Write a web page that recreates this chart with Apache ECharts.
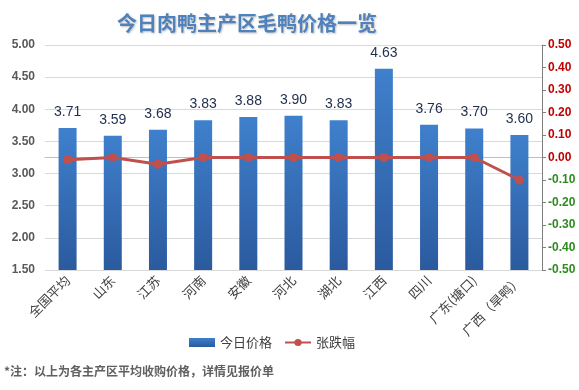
<!DOCTYPE html>
<html><head><meta charset="utf-8">
<script src="https://cdn.jsdelivr.net/npm/echarts@6/dist/echarts.min.js"></script>
<style>html,body{margin:0;padding:0;background:#fff}#c{width:579px;height:390px}</style>
</head><body><div id="c"></div>
<script>
var categories = ['全国平均','山东','江苏','河南','安徽','河北','湖北','江西','四川','广东(塘口)','广西（旱鸭）'];
var prices = [3.71,3.59,3.68,3.83,3.88,3.90,3.83,4.63,3.76,3.70,3.60];
var changes = [-0.01,0.00,-0.03,0.00,0.00,0.00,0.00,0.00,0.00,0.00,-0.10];
var leftTicks = [1.5,5.0,0.5];
var rightTicks = [-0.5,0.5,0.1];

var chart = echarts.init(document.getElementById('c'));
chart.setOption({
  animation:false,
  title:{text:'今日肉鸭主产区毛鸭价格一览',left:242,top:8,textAlign:'center',
    textStyle:{fontFamily:'Noto Sans CJK SC',fontSize:20,fontWeight:'bold',color:'#4f81bd',
      textShadowColor:'rgba(0,0,0,0.25)',textShadowBlur:2,textShadowOffsetX:1,textShadowOffsetY:1}},
  graphic:[{type:'text',left:4,top:365,style:{text:'*注：以上为各主产区平均收购价格，详情见报价单',
    font:'bold 12px "Noto Sans CJK SC"',fill:'#606060'}}],
  legend:{bottom:36,left:184,itemGap:12,itemWidth:26,itemHeight:9,
    textStyle:{fontFamily:'Noto Sans CJK SC',fontSize:13,color:'#404040'},
    data:[{name:'今日价格',icon:'rect'},{name:'张跌幅'}]},
  grid:{left:45,right:37,top:45,bottom:120},
  xAxis:{type:'category',data:categories,
    axisLine:{lineStyle:{color:'#bfbfbf'}},axisTick:{show:false},
    axisLabel:{rotate:45,interval:0,fontFamily:'Noto Sans CJK SC',fontSize:13,color:'#404040',margin:8}},
  yAxis:[{type:'value',min:leftTicks[0],max:leftTicks[1],interval:leftTicks[2],
      axisLine:{show:false},axisTick:{show:false},
      splitLine:{lineStyle:{color:'#d9d9d9'}},
      axisLabel:{formatter:function(v){return v.toFixed(2);},fontFamily:'Liberation Sans',fontWeight:'bold',fontSize:12,color:'#595959',margin:10}},
    {type:'value',min:rightTicks[0],max:rightTicks[1],interval:rightTicks[2],
      axisLine:{show:true,lineStyle:{color:'#7f7f7f'}},axisTick:{show:true,inside:false,length:4,lineStyle:{color:'#7f7f7f'}},
      splitLine:{show:false},
      axisLabel:{formatter:function(v){return v.toFixed(2);},fontFamily:'Liberation Sans',fontWeight:'bold',fontSize:12,margin:6,
        color:function(v){return parseFloat(v) < -0.0001 ? '#2e8b1f' : '#c00000';}}}],
  series:[{name:'今日价格',type:'bar',data:prices,barWidth:18,
      itemStyle:{color:new echarts.graphic.LinearGradient(0,0,0,1,[{offset:0,color:'#3f80cc'},{offset:1,color:'#2b5a9e'}])},
      label:{show:true,position:'top',distance:9,formatter:function(p){return p.value.toFixed(2);},
        fontFamily:'Liberation Sans',fontSize:14,color:'#1f2d4d'}},
    {name:'张跌幅',type:'line',yAxisIndex:1,data:changes,symbol:'circle',symbolSize:9,
      lineStyle:{color:'#c0504d',width:3},itemStyle:{color:'#c0504d'}}]
});
</script></body></html>
